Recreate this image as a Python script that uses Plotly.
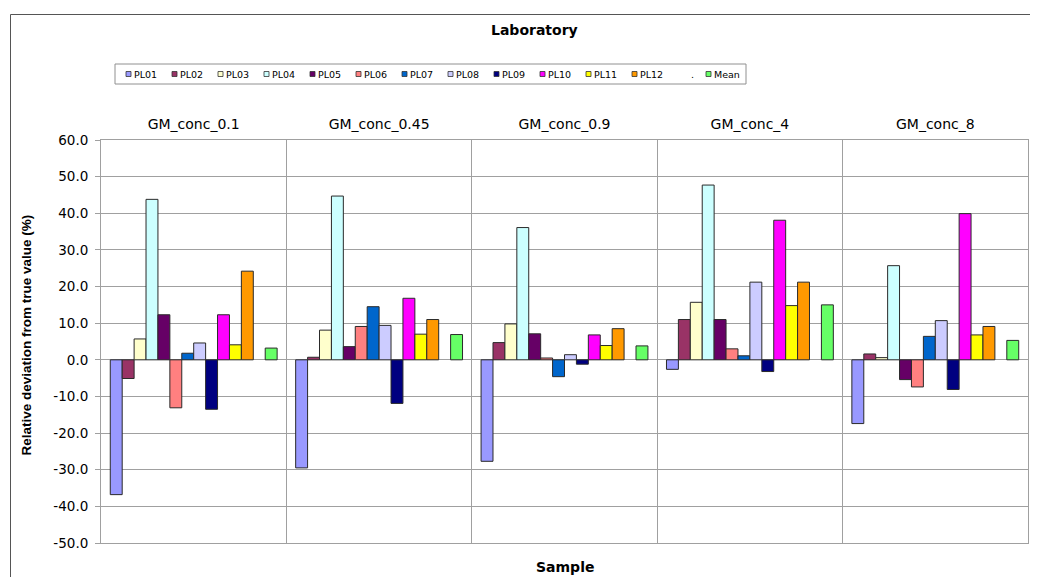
import plotly.graph_objects as go

# ---------------- data ----------------
samples = ["GM_conc_0.1", "GM_conc_0.45", "GM_conc_0.9", "GM_conc_4", "GM_conc_8"]

PL01 = [-36.8, -29.5, -27.7, -2.6, -17.4]
PL02 = [-5.1, 0.7, 4.7, 11.0, 1.6]
PL03 = [5.7, 8.1, 9.8, 15.7, 0.6]
PL04 = [43.8, 44.7, 36.1, 47.7, 25.7]
PL05 = [12.3, 3.6, 7.1, 11.0, -5.4]
PL06 = [-13.1, 9.1, 0.5, 3.0, -7.4]
PL07 = [1.8, 14.5, -4.6, 1.1, 6.4]
PL08 = [4.6, 9.4, 1.4, 21.2, 10.7]
PL09 = [-13.5, -11.9, -1.2, -3.2, -8.1]
PL10 = [12.3, 16.8, 6.8, 38.1, 39.9]
PL11 = [4.1, 7.0, 3.9, 14.8, 6.8]
PL12 = [24.2, 11.0, 8.5, 21.2, 9.1]
BLANK = [None, None, None, None, None]
MEAN = [3.2, 6.9, 3.8, 15.0, 5.3]

series_names = ["PL01", "PL02", "PL03", "PL04", "PL05", "PL06", "PL07",
                "PL08", "PL09", "PL10", "PL11", "PL12", ".", "Mean"]
series_values = [PL01, PL02, PL03, PL04, PL05, PL06, PL07,
                 PL08, PL09, PL10, PL11, PL12, BLANK, MEAN]
series_colors = ["#9999FF", "#993366", "#FFFFCC", "#CCFFFF", "#660066", "#FF8080",
                 "#0066CC", "#CCCCFF", "#000080", "#FF00FF", "#FFFF00", "#FF9900",
                 "#FFFFFF", "#66FF66"]

y_ticks = [-50, -40, -30, -20, -10, 0, 10, 20, 30, 40, 50, 60]

# ---------------- layout geometry ----------------
OFF = 8  # page body margin
W, H = 1038 - OFF, 577 - OFF
ML, MR, MT, MB = 101 - OFF, 10, 140 - OFF, 34
PW = W - ML - MR
PH = H - MT - MB


def px_x(px):
    return (px - OFF - ML) / PW


def px_y(py):
    return (H - MB - (py - OFF)) / PH


FONT = "DejaVu Sans"
GRID = "#a0a0a0"

fig = go.Figure()
for name, vals, col in zip(series_names, series_values, series_colors):
    fig.add_trace(go.Bar(
        x=samples, y=vals, name=name,
        marker=dict(color=col, line=dict(color="#2a2a2a", width=1)),
        showlegend=False,
    ))

shapes = []
annotations = []

# outer chart border
shapes.append(dict(type="rect", xref="paper", yref="paper",
                   x0=px_x(10.5), x1=px_x(1060), y0=px_y(14.5), y1=px_y(620),
                   line=dict(color="#555555", width=1), layer="below"))

# legend box
shapes.append(dict(type="rect", xref="paper", yref="paper",
                   x0=px_x(115), x1=px_x(746), y0=px_y(64), y1=px_y(84),
                   line=dict(color="#909090", width=1), fillcolor="white", layer="below"))

leg_y = 74
marker_lefts = [126 + 46 * i for i in range(12)] + [683, 706]
for i, (name, col) in enumerate(zip(series_names, series_colors)):
    mx = marker_lefts[i]
    if name != ".":
        shapes.append(dict(type="rect", xref="paper", yref="paper",
                           x0=px_x(mx), x1=px_x(mx + 5), y0=px_y(leg_y - 2.5), y1=px_y(leg_y + 2.5),
                           fillcolor=col, line=dict(color="#333333", width=0.8)))
    annotations.append(dict(x=px_x(mx + 6), y=px_y(leg_y), xref="paper", yref="paper",
                            text=name, showarrow=False, xanchor="left", yanchor="middle",
                            font=dict(family=FONT, size=9.5, color="#000000")))

# titles
annotations.append(dict(x=px_x(534.5), y=px_y(30), xref="paper", yref="paper",
                        text="<b>Laboratory</b>", showarrow=False,
                        xanchor="center", yanchor="middle",
                        font=dict(family=FONT, size=14, color="#000000")))
annotations.append(dict(x=px_x(565), y=px_y(567), xref="paper", yref="paper",
                        text="<b>Sample</b>", showarrow=False,
                        xanchor="center", yanchor="middle",
                        font=dict(family=FONT, size=14, color="#000000")))
annotations.append(dict(x=px_x(26), y=px_y(335.5), xref="paper", yref="paper",
                        text="<b>Relative deviation from true value (%)</b>", showarrow=False,
                        textangle=-90, xanchor="center", yanchor="middle",
                        font=dict(family="Liberation Sans", size=13.5, color="#000000")))

fig.update_layout(
    width=W, height=H,
    margin=dict(l=ML, r=MR, t=MT, b=MB, pad=0),
    paper_bgcolor="white", plot_bgcolor="white",
    barmode="group", bargap=0.1, bargroupgap=0,
    shapes=shapes, annotations=annotations,
    showlegend=False,
    xaxis=dict(
        type="category", side="top",
        tickson="boundaries", showgrid=True, gridcolor=GRID, gridwidth=1,
        ticks="", showline=True, linecolor=GRID, linewidth=1, mirror=True,
        tickfont=dict(family=FONT, size=14, color="#000000"),
        ticklabelstandoff=4,
    ),
    yaxis=dict(
        range=[-50, 60], tickvals=y_ticks,
        ticktext=[f"{v:.1f}" for v in y_ticks],
        showgrid=True, gridcolor=GRID, gridwidth=1, zeroline=False,
        ticks="outside", ticklen=5, tickcolor=GRID,
        showline=True, linecolor=GRID, linewidth=1, mirror=True,
        tickfont=dict(family=FONT, size=13.5, color="#000000"),
        ticklabelstandoff=4,
    ),
)

fig.write_html("out.html")
